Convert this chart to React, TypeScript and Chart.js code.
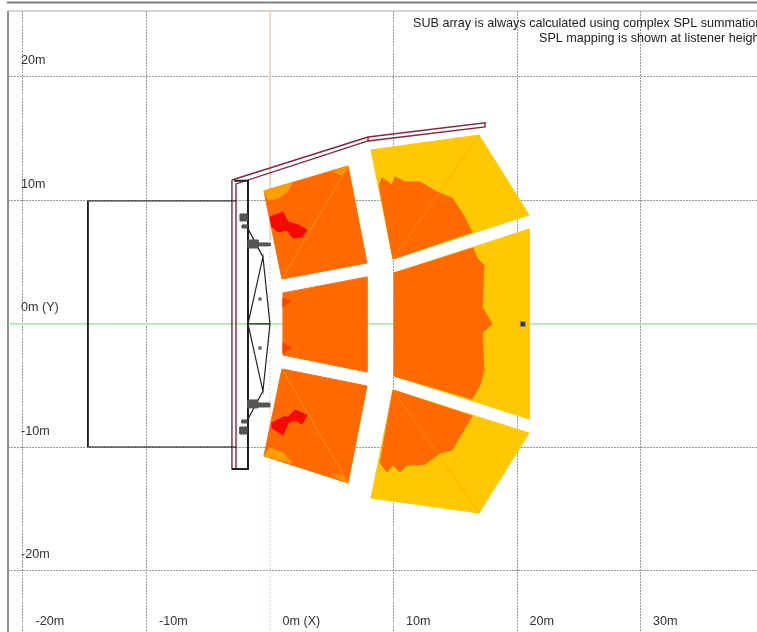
import React, { useEffect, useRef } from "react";
import { Chart, registerables } from "chart.js";

Chart.register(...registerables);

type P = [number, number];

const xTicks = [-20, -10, 0, 10, 20, 30];
const yTicks = [-20, -10, 0, 10, 20];
const xTickLabels = ["-20m", "-10m", "0m (X)", "10m", "20m", "30m"];
const yTickLabels = ["-20m", "-10m", "0m (Y)", "10m", "20m"];
const notes = [
  "SUB array is always calculated using complex SPL summation",
  "SPL mapping is shown at listener height",
];

// audience zones, metres
const zoneUpperLeft: P[] = [[-0.49, 10.77], [6.32, 12.79], [7.85, 4.94], [0.97, 3.64]];
const zoneCentreLeft: P[] = [[1.05, 2.51], [7.85, 3.81], [7.85, -3.89], [1.05, -2.51]];
const zoneLowerLeft: P[] = [[0.97, -3.64], [7.85, -5.02], [6.32, -12.87], [-0.49, -10.69]];
const zoneUpperRight: P[] = [[8.18, 14.09], [16.92, 15.3], [20.97, 8.83], [9.96, 5.26]];
const zoneCentreRight: P[] = [[10.04, 4.13], [20.97, 7.69], [20.97, -7.69], [10.04, -4.21]];
const zoneLowerRight: P[] = [[9.96, -5.34], [20.97, -8.83], [16.92, -15.3], [8.18, -14.09]];

// SPL contours
const orangeUpperRight: P[] = [[9.96, 5.26], [8.83, 11.26], [9.07, 11.82], [9.88, 11.26], [10.12, 11.9], [10.93, 11.5], [12.15, 11.5], [13.52, 10.69], [14.74, 10.2], [15.55, 8.99], [16.36, 7.45]];
const orangeCentreRight: P[] = [[10.04, 4.13], [16.44, 6.15], [16.76, 5.34], [17.33, 4.78], [17.17, 1.38], [17.98, 0], [17.17, -0.73], [17.33, -3.72], [17.0, -4.94], [16.36, -6.07], [10.04, -4.21]];
const orangeLowerRight: P[] = [[9.96, -5.34], [16.36, -7.45], [15.55, -8.83], [14.74, -10.2], [13.77, -10.45], [12.55, -11.34], [11.09, -11.42], [10.53, -11.98], [9.96, -11.42], [9.47, -11.98], [8.91, -11.26]];
const fringeUpperLeftA: P[] = [[-0.49, 10.77], [1.78, 11.42], [1.38, 10.69], [0.65, 10.2], [-0.16, 10.04]];
const fringeUpperLeftB: P[] = [[5.1, 12.31], [6.32, 12.79], [5.91, 12.06]];
const fringeLowerLeftA: P[] = [[-0.49, -10.69], [0, -10.04], [1.05, -10.45], [1.78, -11.26]];
const fringeLowerLeftB: P[] = [[5.02, -12.23], [6.32, -12.87], [5.83, -12.23]];
const redUpperLeft: P[] = [[0, 8.66], [1.05, 9.07], [1.46, 8.26], [2.27, 8.02], [3.0, 7.61], [2.59, 7.04], [1.86, 6.96], [1.38, 7.61], [0.65, 7.45], [0.16, 7.85]];
const redLowerLeft: P[] = [[0.16, -8.02], [1.05, -7.53], [1.46, -7.53], [2.02, -6.96], [3.0, -7.37], [2.59, -8.1], [2.02, -7.77], [1.46, -8.02], [1.05, -8.99], [0.16, -8.42]];
const redCentreTop: P[] = [[1.05, 2.11], [1.62, 1.86], [1.05, 1.38]];
const redCentreBottom: P[] = [[1.05, -1.54], [1.7, -1.94], [1.05, -2.35]];

// triangulation seams
const seamUpperLeft: P[] = [[0.97, 3.64], [6.32, 12.79]];
const seamLowerLeft: P[] = [[0.97, -3.64], [6.32, -12.87]];
const seamUpperRight: P[] = [[9.96, 5.26], [16.92, 15.3]];
const seamLowerRight: P[] = [[9.96, -5.34], [16.92, -15.3]];

// venue
const wallOutline: P[] = [[-3.08, 11.66], [7.94, 15.14], [17.41, 16.28], [17.41, 15.95], [7.94, 14.82], [-2.75, 11.34], [-2.75, -11.74], [-3.08, -11.74], [-3.08, 11.66]];
const wallJoint: P[] = [[7.94, 15.14], [7.94, 14.82]];
const stageRect: P[] = [[-2.75, 9.96], [-14.74, 9.96], [-14.74, -9.96], [-2.75, -9.96]];
const stageFront: P[] = [[-3.08, -11.74], [-1.78, -11.74], [-1.78, 11.6], [-2.9, 11.6]];
const trussDiamond: P[] = [[-1.78, 0], [-0.57, 5.43], [0, 0], [-0.57, -5.43], [-1.78, 0], [0, 0]];
const trussUpperLink: P[] = [[-0.57, 5.43], [-1.78, 7.7]];
const trussLowerLink: P[] = [[-0.57, -5.43], [-1.78, -7.7]];
const speakerBlocks: P[][] = [
  [[-2.43, 8.91], [-1.86, 8.91], [-1.86, 8.34], [-2.43, 8.34]],
  [[-2.27, 8.02], [-1.86, 8.02], [-1.86, 7.77], [-2.27, 7.77]],
  [[-1.78, 6.8], [-0.97, 6.8], [-0.97, 6.15], [-1.78, 6.15]],
  [[-0.97, 6.56], [0, 6.56], [0, 6.32], [-0.97, 6.32]],
  [[-2.43, -8.91], [-1.86, -8.91], [-1.86, -8.34], [-2.43, -8.34]],
  [[-2.27, -8.02], [-1.86, -8.02], [-1.86, -7.77], [-2.27, -7.77]],
  [[-1.78, -6.8], [-0.97, -6.8], [-0.97, -6.15], [-1.78, -6.15]],
  [[-0.97, -6.72], [0, -6.72], [0, -6.4], [-0.97, -6.4]],
];
const trussDots: P[] = [[-0.81, 2.02], [-0.81, -1.94]];
const listener: P[] = [[20.47, 0]];

// reference axes and frame
const greenAxis: P[] = [[-21.21, 0], [40, 0]];
const redAxisUpper: P[] = [[0, 25.34], [0, 6.8]];
const redAxisLower: P[] = [[0, 6.8], [0, -25]];
const frameTop: P[] = [[-21.3, 26.03], [40, 26.03]];
const frameInner: P[] = [[-21.21, 25.34], [40, 25.34]];
const frameLeft: P[] = [[-21.21, 25.34], [-21.21, -25]];

const YELLOW = "#ffc800";
const ORANGE = "#ff6a00";
const RED = "#f50a00";
const WARM = "#ff9a00";

const pts = (a: P[]) => a.map(([x, y]) => ({ x, y }));
const closed = (a: P[]) => pts([...a, a[0]]);

const poly = (a: P[], color: string) => ({
  data: closed(a),
  showLine: true,
  fill: "shape",
  backgroundColor: color,
  borderColor: color,
  borderWidth: 1,
  pointRadius: 0,
  clip: false,
});
const line = (a: P[], color: string, width = 1, dash: number[] = []) => ({
  data: pts(a),
  showLine: true,
  fill: false,
  borderColor: color,
  borderWidth: width,
  borderDash: dash,
  pointRadius: 0,
  clip: false,
});

const layers: any[] = [
  line(frameTop, "#7f7f7f", 2),
  line(frameInner, "#a8a8a8", 1),
  line(frameLeft, "#8f8f8f", 2),
  line(greenAxis, "#7df07d", 1.2),
  line(redAxisUpper, "#fbd2c2", 2),
  line(redAxisLower, "#fbc4b0", 1, [2, 2]),
  poly(zoneUpperLeft, ORANGE),
  poly(zoneCentreLeft, ORANGE),
  poly(zoneLowerLeft, ORANGE),
  poly(zoneUpperRight, YELLOW),
  poly(zoneCentreRight, YELLOW),
  poly(zoneLowerRight, YELLOW),
  poly(orangeUpperRight, ORANGE),
  poly(orangeCentreRight, ORANGE),
  poly(orangeLowerRight, ORANGE),
  poly(fringeUpperLeftA, "#ffa000"),
  poly(fringeUpperLeftB, "#ff9000"),
  poly(fringeLowerLeftA, "#ffa000"),
  poly(fringeLowerLeftB, "#ff9000"),
  poly(redUpperLeft, RED),
  poly(redLowerLeft, RED),
  poly(redCentreTop, "#ff4000"),
  poly(redCentreBottom, "#ff4000"),
  line(seamUpperLeft, WARM, 0.8),
  line(seamLowerLeft, WARM, 0.8),
  line(seamUpperRight, WARM, 0.6),
  line(seamLowerRight, WARM, 0.6),
  line(wallOutline, "#8e2236", 1.4),
  line(wallJoint, "#8e2236", 1.4),
  line(stageRect, "#111111", 1),
  line(stageFront, "#222222", 2),
  line(trussDiamond, "#222222", 1.2),
  line(trussUpperLink, "#222222", 1.2),
  line(trussLowerLink, "#222222", 1.2),
  ...speakerBlocks.map((b) => poly(b, "#555555")),
  { data: pts(trussDots), showLine: false, pointRadius: 2, backgroundColor: "#777777", borderWidth: 0, clip: false },
  { data: pts(listener), showLine: false, pointStyle: "rect", pointRadius: 3.5, backgroundColor: "#333333", borderColor: "#888888", borderWidth: 1, clip: false },
];

const notesPlugin = {
  id: "notes",
  afterDraw(chart: any) {
    const { ctx } = chart;
    ctx.save();
    ctx.font = "12.6px 'Liberation Sans'";
    ctx.fillStyle = "#222222";
    ctx.textBaseline = "alphabetic";
    ctx.textAlign = "left";
    ctx.fillText(notes[0], 413, 27);
    ctx.fillText(notes[1], 539, 42);
    ctx.restore();
  },
};

const flatten = (s: any) => {
  s.paddingLeft = 0;
  s.paddingRight = 0;
  s.paddingTop = 0;
  s.paddingBottom = 0;
  if (s.isHorizontal()) s.height = 0;
  else s.width = 0;
};

export default function App() {
  const ref = useRef<HTMLCanvasElement>(null);
  useEffect(() => {
    const chart = new Chart(ref.current!, {
      type: "scatter",
      data: { datasets: layers.map((d, i) => ({ ...d, order: -i })) },
      options: {
        animation: false,
        responsive: false,
        devicePixelRatio: 1,
        layout: { autoPadding: false, padding: { left: 8, top: 11, right: 0, bottom: 0 } },
        plugins: { legend: { display: false }, tooltip: { enabled: false } },
        scales: {
          x: {
            type: "linear",
            position: "bottom",
            min: -21.21,
            max: 39.43,
            afterBuildTicks: (s: any) => { s.ticks = xTicks.map((value) => ({ value })); },
            afterFit: flatten,
            border: { display: false, dash: [2, 1] },
            grid: {
              drawTicks: false,
              lineWidth: 1,
              color: (c: any) => (c.tick && c.tick.value === 0 ? "rgba(0,0,0,0)" : "#9a9a9a"),
            },
            ticks: {
              autoSkip: false,
              mirror: true,
              maxRotation: 0,
              minRotation: 0,
              align: "start",
              padding: 3,
              labelOffset: 12.5,
              color: "#333333",
              font: { family: "'Liberation Sans'", size: 12.6 },
              callback: (v: any) => xTickLabels[xTicks.indexOf(v)],
            },
          },
          y: {
            type: "linear",
            position: "left",
            min: -24.94,
            max: 25.34,
            afterBuildTicks: (s: any) => { s.ticks = yTicks.map((value) => ({ value })); },
            afterFit: flatten,
            border: { display: false, dash: [2, 1] },
            grid: {
              drawTicks: false,
              lineWidth: 1,
              color: (c: any) => (c.tick && c.tick.value === 0 ? "rgba(0,0,0,0)" : "#9a9a9a"),
            },
            ticks: {
              autoSkip: false,
              mirror: true,
              padding: 13,
              labelOffset: -16,
              color: "#333333",
              font: { family: "'Liberation Sans'", size: 12.6 },
              callback: (v: any) => yTickLabels[yTicks.indexOf(v)],
            },
          },
        },
      } as any,
      plugins: [notesPlugin],
    } as any);
    return () => chart.destroy();
  }, []);
  return (
    <div style={{ position: "fixed", left: 0, top: 0, width: 757, height: 632, overflow: "hidden", background: "#fff" }}>
      <canvas ref={ref} width={757} height={632} style={{ display: "block", width: 757, height: 632, filter: "blur(0.6px)" }} />
    </div>
  );
}
